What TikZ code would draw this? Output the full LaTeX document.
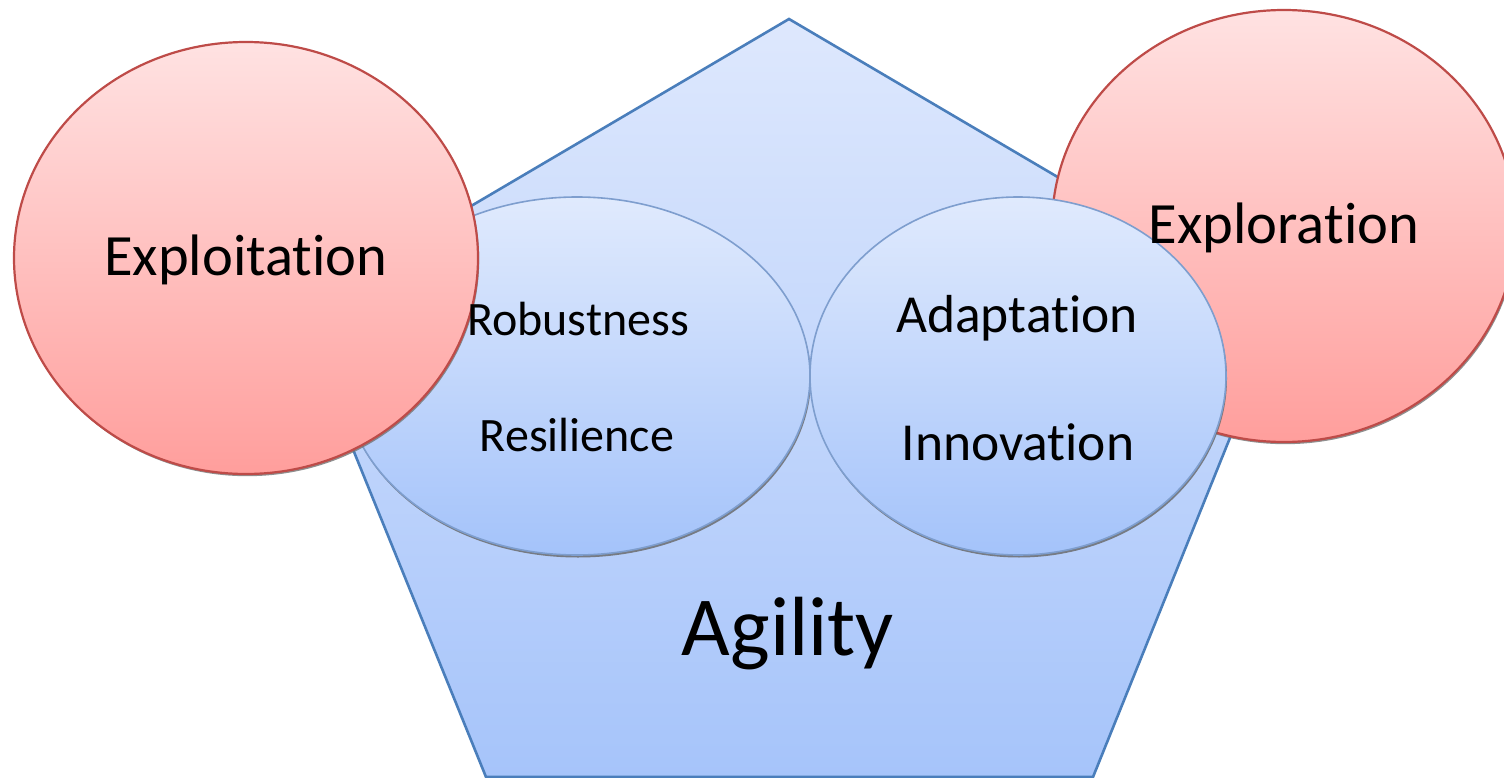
\documentclass[tikz,border=0pt]{standalone}
\usepackage{fontspec}
\setmainfont{Carlito}[RawFeature=-liga]
\usetikzlibrary{shapes.geometric,shadows}
\definecolor{pentline}{HTML}{4A7EBB}
\definecolor{penttop}{RGB}{222,232,253}
\definecolor{pentbot}{RGB}{166,196,250}
\definecolor{redline}{HTML}{BE4B48}
\definecolor{redtop}{RGB}{255,226,226}
\definecolor{redbot}{RGB}{255,158,156}
\definecolor{ellline}{HTML}{7E9ECE}
\definecolor{elltop}{RGB}{224,234,253}
\definecolor{ellbot}{RGB}{164,195,250}
\tikzset{
  pent/.style={draw=pentline, line width=2.6pt, line join=miter, top color=penttop, bottom color=pentbot},
  redball/.style={ellipse, inner sep=0pt, minimum width=464pt, minimum height=432pt,
    draw=redline, line width=2.2pt, top color=redtop, bottom color=redbot,
    drop shadow={shadow xshift=1.2pt, shadow yshift=-2.2pt, fill=black!55, opacity=0.8}},
  innerell/.style={ellipse, inner sep=0pt, draw=ellline, line width=1.6pt, top color=elltop, bottom color=ellbot,
    drop shadow={shadow xshift=1pt, shadow yshift=-2.5pt, fill=black!60, opacity=0.8}},
  lbl/.style={anchor=base, inner sep=0pt, text=black},
}
\begin{document}
\begin{tikzpicture}[x=1pt,y=-1pt]
\useasboundingbox (0,0) rectangle (1504,778);
% pentagon
\coordinate (pa) at (789,19);
\coordinate (pb) at (1282,309);
\coordinate (pc) at (1093,777);
\coordinate (pd) at (486,777);
\coordinate (pe) at (296,309);
\draw[pent] (pa) -- (pb) -- (pc) -- (pd) -- (pe) -- cycle;
% exploration circle (behind right ellipse)
\node[redball] (explore) at (1284,226) {};
% inner ellipses
\node[innerell, minimum width=466pt, minimum height=358pt] (leftell) at (577,376) {};
\node[innerell, minimum width=416pt, minimum height=358pt] (rightell) at (1018,376) {};
% exploitation circle
\node[redball] (exploit) at (246,258) {};
% labels
\node[lbl, font=\fontsize{58.5}{64}\selectfont] (texploit) at (246,275) {Exploitation};
\node[lbl, font=\fontsize{58.5}{64}\selectfont] (texplore) at (1284,243) {Exploration};
\node[lbl, font=\fontsize{48}{54}\selectfont] (trobust) at (578,335) {Robustness};
\node[lbl, font=\fontsize{48}{54}\selectfont] (tresil) at (577,451) {Resilience};
\node[lbl, font=\fontsize{53.5}{60}\selectfont] (tadapt) at (1017,332) {Adaptation};
\node[lbl, font=\fontsize{53.5}{60}\selectfont] (tinnov) at (1018,460) {Innovation};
\node[lbl, font=\fontsize{84}{92}\selectfont] (tagil) at (788,655) {Agility};
\end{tikzpicture}
\end{document}
